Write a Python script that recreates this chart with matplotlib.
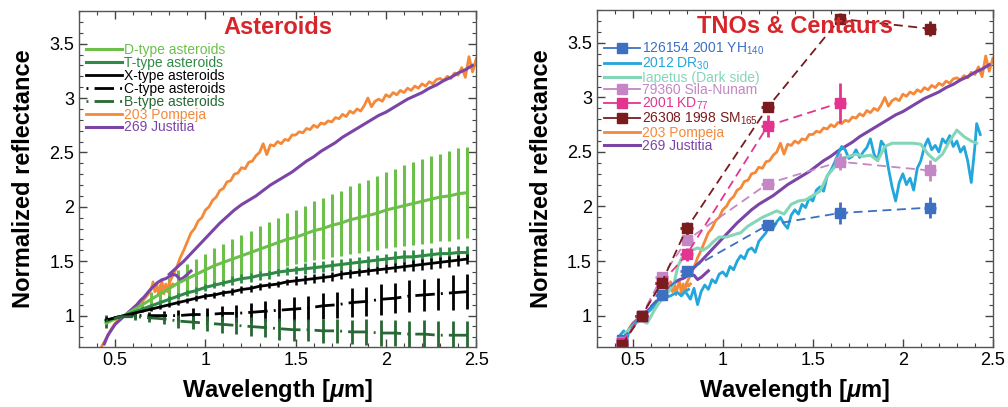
import numpy as np
import matplotlib
matplotlib.use('Agg')
import matplotlib.pyplot as plt
from matplotlib.lines import Line2D
from matplotlib.ticker import MultipleLocator, FormatStrFormatter

plt.rcParams['font.family'] = ['Liberation Sans', 'DejaVu Sans']
plt.rcParams['mathtext.fontset'] = 'custom'
plt.rcParams['mathtext.rm'] = 'Liberation Sans'
plt.rcParams['mathtext.it'] = 'Liberation Sans:italic:bold'
plt.rcParams['mathtext.bf'] = 'Liberation Sans:bold'

# ---------------- asteroid class means (left panel) ----------------
wl_class = [0.45, 0.50, 0.55, 0.60, 0.65, 0.70, 0.75, 0.80, 0.85, 0.90, 0.95, 1.00, 1.05, 1.10,
            1.15, 1.20, 1.25, 1.30, 1.35, 1.40, 1.45, 1.50, 1.55, 1.60, 1.65, 1.70, 1.75, 1.80,
            1.85, 1.90, 1.95, 2.00, 2.05, 2.10, 2.15, 2.20, 2.25, 2.30, 2.35, 2.40, 2.45]
d_type = [0.93, 0.97, 1.00, 1.05, 1.10, 1.15, 1.20, 1.25, 1.30, 1.34, 1.38, 1.42, 1.46, 1.49,
          1.52, 1.55, 1.58, 1.61, 1.64, 1.67, 1.70, 1.72, 1.75, 1.78, 1.80, 1.83, 1.85, 1.88,
          1.90, 1.92, 1.94, 1.97, 1.99, 2.01, 2.03, 2.05, 2.07, 2.09, 2.10, 2.12, 2.13]
d_err = [0.02, 0.01, 0.00, 0.03, 0.05, 0.07, 0.09, 0.10, 0.12, 0.13, 0.14, 0.15, 0.16, 0.17,
         0.18, 0.19, 0.20, 0.21, 0.22, 0.23, 0.24, 0.25, 0.26, 0.27, 0.28, 0.29, 0.30, 0.31,
         0.32, 0.33, 0.34, 0.35, 0.36, 0.37, 0.38, 0.39, 0.40, 0.40, 0.41, 0.42, 0.42]
t_type = [0.95, 0.98, 1.00, 1.03, 1.06, 1.09, 1.12, 1.15, 1.18, 1.21, 1.23, 1.26, 1.28, 1.30,
          1.32, 1.34, 1.35, 1.37, 1.38, 1.40, 1.41, 1.42, 1.43, 1.44, 1.45, 1.46, 1.47, 1.48,
          1.49, 1.50, 1.51, 1.52, 1.53, 1.54, 1.54, 1.55, 1.56, 1.57, 1.57, 1.58, 1.58]
t_err = [0.03, 0.01, 0.00, 0.01, 0.02, 0.02, 0.02, 0.03, 0.03, 0.03, 0.03, 0.03, 0.03, 0.03,
         0.04, 0.04, 0.04, 0.04, 0.04, 0.04, 0.04, 0.04, 0.05, 0.05, 0.05, 0.05, 0.05, 0.05,
         0.05, 0.05, 0.05, 0.05, 0.06, 0.06, 0.06, 0.06, 0.06, 0.06, 0.06, 0.06, 0.06]
x_type = [0.96, 0.98, 1.00, 1.02, 1.04, 1.06, 1.08, 1.10, 1.12, 1.14, 1.16, 1.18, 1.19, 1.21,
          1.22, 1.24, 1.25, 1.27, 1.28, 1.29, 1.31, 1.32, 1.33, 1.34, 1.35, 1.36, 1.38, 1.39,
          1.40, 1.41, 1.42, 1.43, 1.44, 1.45, 1.46, 1.47, 1.48, 1.49, 1.50, 1.51, 1.52]
x_err = [0.02, 0.01, 0.00, 0.01, 0.01, 0.02, 0.02, 0.02, 0.02, 0.02, 0.03, 0.03, 0.03, 0.03,
         0.03, 0.03, 0.03, 0.03, 0.03, 0.03, 0.03, 0.04, 0.04, 0.04, 0.04, 0.04, 0.04, 0.04,
         0.04, 0.04, 0.04, 0.04, 0.04, 0.04, 0.05, 0.05, 0.05, 0.05, 0.05, 0.05, 0.05]

wl_cb = [0.45, 0.53, 0.61, 0.69, 0.77, 0.85, 0.93, 1.01, 1.09, 1.17, 1.25, 1.33, 1.41,
         1.49, 1.57, 1.65, 1.73, 1.81, 1.89, 1.97, 2.05, 2.13, 2.21, 2.29, 2.37, 2.45]
c_type = [0.97, 0.99, 1.00, 1.00, 1.00, 1.00, 1.01, 1.01, 1.02, 1.02, 1.03, 1.04, 1.05,
          1.06, 1.07, 1.09, 1.10, 1.12, 1.13, 1.15, 1.16, 1.18, 1.19, 1.20, 1.21, 1.22]
c_err = [0.03, 0.01, 0.02, 0.03, 0.04, 0.05, 0.06, 0.06, 0.07, 0.08, 0.09, 0.09, 0.10,
         0.11, 0.11, 0.12, 0.12, 0.13, 0.13, 0.14, 0.14, 0.15, 0.15, 0.15, 0.16, 0.16]
b_type = [0.95, 0.99, 0.99, 0.98, 0.97, 0.95, 0.94, 0.93, 0.92, 0.91, 0.90, 0.89, 0.88,
          0.87, 0.87, 0.86, 0.86, 0.85, 0.85, 0.84, 0.84, 0.83, 0.83, 0.82, 0.82, 0.82]
b_err = [0.06, 0.01, 0.03, 0.04, 0.05, 0.06, 0.06, 0.07, 0.08, 0.08, 0.09, 0.09, 0.10,
         0.10, 0.10, 0.11, 0.11, 0.11, 0.12, 0.12, 0.12, 0.12, 0.13, 0.13, 0.13, 0.13]

# ---------------- 203 Pompeja ----------------
pom_vis_wl = [0.42, 0.44, 0.46, 0.48, 0.50, 0.52, 0.54, 0.56, 0.58, 0.60, 0.62, 0.64, 0.66, 0.68,
              0.70, 0.71, 0.72, 0.73, 0.74, 0.75, 0.76, 0.77, 0.78, 0.79, 0.80, 0.81, 0.82]
pom_vis = [0.70, 0.76, 0.82, 0.88, 0.93, 0.96, 0.99, 1.01, 1.03, 1.06, 1.09, 1.12, 1.15, 1.19,
           1.24, 1.31, 1.22, 1.30, 1.19, 1.27, 1.31, 1.20, 1.29, 1.22, 1.30, 1.27, 1.29]
pom_nir_wl = [0.80, 0.82, 0.84, 0.86, 0.88, 0.90, 0.92, 0.94, 0.96, 0.98, 1.00, 1.02, 1.04, 1.06,
              1.08, 1.10, 1.12, 1.14, 1.16, 1.18, 1.20, 1.22, 1.24, 1.26, 1.28, 1.30, 1.32, 1.34,
              1.36, 1.38, 1.40, 1.42, 1.44, 1.46, 1.48, 1.50, 1.52, 1.54, 1.56, 1.58, 1.60, 1.62,
              1.64, 1.66, 1.68, 1.70, 1.72, 1.74, 1.76, 1.78, 1.80, 1.82, 1.84, 1.86, 1.88, 1.90,
              1.92, 1.94, 1.96, 1.98, 2.00, 2.02, 2.04, 2.06, 2.08, 2.10, 2.12, 2.14, 2.16, 2.18,
              2.20, 2.22, 2.24, 2.26, 2.28, 2.30, 2.32, 2.34, 2.36, 2.38, 2.40, 2.42, 2.44, 2.46,
              2.48, 2.50]
pom_nir = [1.30, 1.37, 1.44, 1.53, 1.60, 1.68, 1.76, 1.80, 1.87, 1.90, 1.97, 2.00, 2.06, 2.09,
           2.15, 2.17, 2.23, 2.24, 2.30, 2.31, 2.36, 2.35, 2.41, 2.42, 2.47, 2.50, 2.58, 2.48,
           2.57, 2.56, 2.60, 2.58, 2.62, 2.61, 2.66, 2.66, 2.69, 2.68, 2.72, 2.71, 2.75, 2.73,
           2.77, 2.76, 2.79, 2.78, 2.82, 2.81, 2.85, 2.83, 2.88, 2.86, 2.90, 2.88, 2.93, 3.00,
           2.92, 2.97, 2.99, 2.97, 3.03, 3.01, 3.05, 3.03, 3.07, 3.05, 3.09, 3.07, 3.11, 3.09,
           3.13, 3.11, 3.15, 3.13, 3.17, 3.18, 3.16, 3.20, 3.18, 3.23, 3.21, 3.28, 3.19, 3.38,
           3.24, 3.36]

# ---------------- 269 Justitia ----------------
jus_vis_wl = [0.44, 0.46, 0.48, 0.50, 0.52, 0.54, 0.56, 0.58, 0.60, 0.62, 0.64, 0.66, 0.68,
              0.70, 0.72, 0.74, 0.76, 0.78, 0.80, 0.82, 0.84, 0.86, 0.88, 0.90, 0.92]
jus_vis = [0.74, 0.82, 0.87, 0.92, 0.95, 0.98, 1.01, 1.04, 1.07, 1.10, 1.14, 1.17, 1.21,
           1.25, 1.28, 1.31, 1.33, 1.34, 1.36, 1.38, 1.37, 1.33, 1.35, 1.38, 1.41]
jus_nir_wl = [0.80, 0.84, 0.88, 0.92, 0.96, 1.00, 1.04, 1.08, 1.12, 1.16, 1.20, 1.24, 1.28,
              1.32, 1.36, 1.40, 1.44, 1.48, 1.52, 1.56, 1.60, 1.64, 1.68, 1.72, 1.76, 1.80,
              1.84, 1.88, 1.92, 1.96, 2.00, 2.04, 2.08, 2.12, 2.16, 2.20, 2.24, 2.28, 2.32,
              2.36, 2.40, 2.44, 2.48]
jus_nir = [1.38, 1.44, 1.50, 1.57, 1.64, 1.71, 1.78, 1.85, 1.91, 1.97, 2.02, 2.06, 2.10,
           2.15, 2.20, 2.24, 2.28, 2.32, 2.37, 2.42, 2.46, 2.51, 2.55, 2.59, 2.64, 2.68,
           2.72, 2.76, 2.80, 2.84, 2.87, 2.91, 2.95, 2.99, 3.02, 3.05, 3.09, 3.12, 3.16,
           3.19, 3.23, 3.26, 3.30]

# ---------------- TNOs & Centaurs (right panel) ----------------
wl_phot = [0.44, 0.55, 0.66, 0.80, 1.25, 1.65, 2.15]
yh140 = [0.78, 1.00, 1.19, 1.41, 1.83, 1.94, 1.99]
yh140_err = [0.02, 0.00, 0.03, 0.04, 0.04, 0.10, 0.10]
sila = [0.76, 1.00, 1.35, 1.69, 2.21, 2.41, 2.33]
sila_err = [0.02, 0.00, 0.03, 0.04, 0.04, 0.08, 0.10]
wl_kd77 = [0.44, 0.55, 0.66, 0.80, 1.25, 1.65]
kd77 = [0.75, 1.00, 1.30, 1.56, 2.74, 2.95]
kd77_err = [0.02, 0.00, 0.04, 0.06, 0.10, 0.18]
sm165 = [0.73, 1.00, 1.30, 1.80, 2.91, 3.72, 3.63]
sm165_err = [0.02, 0.00, 0.03, 0.06, 0.04, 0.05, 0.07]

dr30_vis_wl = [0.43, 0.45, 0.47, 0.49, 0.51, 0.53, 0.55, 0.57, 0.59, 0.61, 0.63, 0.65, 0.67,
               0.69, 0.71, 0.73, 0.75, 0.77, 0.79, 0.81]
dr30_vis = [0.82, 0.86, 0.80, 0.90, 0.93, 0.97, 1.00, 1.02, 1.04, 1.07, 1.10, 1.13, 1.15,
            1.17, 1.18, 1.20, 1.21, 1.18, 1.22, 1.24]
dr30_nir_wl = [0.80, 0.82, 0.84, 0.86, 0.88, 0.90, 0.92, 0.94, 0.96, 0.98, 1.00, 1.02, 1.04,
               1.06, 1.08, 1.10, 1.12, 1.14, 1.16, 1.18, 1.20, 1.22, 1.24, 1.26, 1.28, 1.30,
               1.32, 1.34, 1.36, 1.38, 1.40, 1.42, 1.44, 1.46, 1.48, 1.50, 1.52, 1.54, 1.56,
               1.58, 1.60, 1.62, 1.64, 1.66, 1.68, 1.70, 1.72, 1.74, 1.76, 1.78, 1.80, 1.82,
               1.84, 1.86, 1.88, 1.90, 1.92, 1.94, 1.96, 1.98, 2.00, 2.02, 2.04, 2.06, 2.08,
               2.10, 2.12, 2.14, 2.16, 2.18, 2.20, 2.22, 2.24, 2.26, 2.28, 2.30, 2.32, 2.34,
               2.36, 2.38, 2.40, 2.41, 2.43]
dr30_nir = [1.20, 1.15, 1.25, 1.10, 1.22, 1.28, 1.24, 1.33, 1.30, 1.38, 1.40, 1.36, 1.45,
            1.42, 1.50, 1.55, 1.52, 1.60, 1.62, 1.58, 1.68, 1.72, 1.76, 1.84, 1.80, 1.86,
            1.90, 1.84, 1.80, 1.92, 1.97, 1.93, 2.02, 1.99, 2.08, 2.05, 2.15, 2.18, 2.14,
            2.28, 2.33, 2.40, 2.48, 2.55, 2.52, 2.44, 2.46, 2.52, 2.45, 2.50, 2.54, 2.62,
            2.48, 2.42, 2.60, 2.55, 2.35, 2.18, 2.05, 2.22, 2.30, 2.20, 2.26, 2.15, 2.35,
            2.42, 2.55, 2.62, 2.52, 2.56, 2.50, 2.62, 2.58, 2.65, 2.55, 2.60, 2.50, 2.55,
            2.42, 2.22, 2.55, 2.76, 2.66]

iap_wl = [0.46, 0.50, 0.54, 0.58, 0.62, 0.66, 0.70, 0.73, 0.75, 0.77, 0.79, 0.81, 0.83, 0.86,
          0.89, 0.92, 0.95, 0.98, 1.02, 1.06, 1.10, 1.14, 1.18, 1.22, 1.26, 1.30, 1.34, 1.38,
          1.42, 1.46, 1.50, 1.54, 1.58, 1.62, 1.66, 1.70, 1.74, 1.78, 1.82, 1.86, 1.90, 1.94,
          1.98, 2.02, 2.06, 2.10, 2.14, 2.18, 2.22, 2.26, 2.30, 2.34, 2.38, 2.41]
iapetus = [0.84, 0.90, 0.96, 0.93, 1.05, 1.15, 1.22, 1.30, 1.45, 1.52, 1.58, 1.55, 1.60, 1.62,
           1.60, 1.63, 1.68, 1.72, 1.72, 1.74, 1.76, 1.82, 1.86, 1.90, 1.93, 1.96, 1.93, 2.02,
           2.05, 2.06, 2.10, 2.14, 2.28, 2.36, 2.44, 2.46, 2.48, 2.46, 2.47, 2.42, 2.55, 2.58,
           2.58, 2.58, 2.58, 2.57, 2.48, 2.42, 2.48, 2.60, 2.70, 2.64, 2.60, 2.58]

# colours
c_d, c_t, c_x, c_c, c_b = '#6cc04a', '#2f8a45', 'black', 'black', '#276833'
c_pom, c_jus = '#f4893a', '#7b45a8'
c_yh, c_dr, c_iap, c_sila, c_kd, c_sm = '#3d6fc2', '#22a6dc', '#85d6b9', '#c486c4', '#e3358f', '#7a1c1e'
title_red = '#d7262b'

dashdot = (0, (0.7, 2.2, 7.0, 2.2))

fig = plt.figure(figsize=(10.08, 4.07), dpi=100)
ax1 = fig.add_axes([0.0784, 0.147, 0.394, 0.826])
ax2 = fig.add_axes([0.592, 0.147, 0.393, 0.828])

# ---- left panel ----
ax1.errorbar(wl_class, d_type, yerr=d_err, color=c_d, lw=2.2, elinewidth=2.2, capsize=0)
ax1.errorbar(wl_class, t_type, yerr=t_err, color=c_t, lw=2.2, elinewidth=2.0, capsize=0)
ax1.errorbar(wl_class, x_type, yerr=x_err, color=c_x, lw=2.0, elinewidth=1.8, capsize=0)
ax1.errorbar(wl_cb, c_type, yerr=c_err, color=c_c, lw=2.0, ls=dashdot, elinewidth=2.0, capsize=0)
ax1.errorbar(wl_cb, b_type, yerr=b_err, color=c_b, lw=2.0, ls=dashdot, elinewidth=2.0, capsize=0)

for ax in (ax1, ax2):
    ax.plot(pom_vis_wl, pom_vis, color=c_pom, lw=2.0)
    ax.plot(pom_nir_wl, pom_nir, color=c_pom, lw=2.0)
    ax.plot(jus_vis_wl, jus_vis, color=c_jus, lw=2.2)
    ax.plot(jus_nir_wl, jus_nir, color=c_jus, lw=2.2)

h_left = [Line2D([], [], color=c_d, lw=2.2),
          Line2D([], [], color=c_t, lw=2.2),
          Line2D([], [], color=c_x, lw=2.0),
          Line2D([], [], color=c_c, lw=2.0, ls=dashdot),
          Line2D([], [], color=c_b, lw=2.0, ls=dashdot),
          Line2D([], [], color=c_pom, lw=2.0),
          Line2D([], [], color=c_jus, lw=2.2)]
lab_left = ['D-type asteroids', 'T-type asteroids', 'X-type asteroids', 'C-type asteroids',
            'B-type asteroids', '203 Pompeja', '269 Justitia']
col_left = [c_d, c_t, c_x, c_c, c_b, c_pom, c_jus]
leg = ax1.legend(h_left, lab_left, loc='upper left', bbox_to_anchor=(0.0, 0.925), frameon=False,
                 fontsize=10, handlelength=2.6, handletextpad=0.15, labelspacing=-0.08,
                 borderaxespad=0.3, borderpad=0.2)
for t, c in zip(leg.get_texts(), col_left):
    t.set_color(c)
ax1.text(0.5, 0.952, 'Asteroids', transform=ax1.transAxes, ha='center', va='center',
         color=title_red, fontsize=17, fontweight='bold')

# ---- right panel ----
ax2.plot(dr30_vis_wl, dr30_vis, color=c_dr, lw=2.0)
ax2.plot(dr30_nir_wl, dr30_nir, color=c_dr, lw=2.0)
ax2.plot(iap_wl, iapetus, color=c_iap, lw=2.2)

pts = [(wl_phot, yh140, yh140_err, c_yh),
       (wl_phot, sila, sila_err, c_sila),
       (wl_kd77, kd77, kd77_err, c_kd),
       (wl_phot, sm165, sm165_err, c_sm)]
for wl, val, err, c in pts:
    ax2.errorbar(wl, val, yerr=err, xerr=0.035, color=c, lw=1.3, ls=(0, (5, 3)), marker='s',
                 ms=7.5, elinewidth=2.0, capsize=0)

h_right = [Line2D([], [], color=c_yh, lw=1.3, marker='s', ms=7.5),
           Line2D([], [], color=c_dr, lw=2.0),
           Line2D([], [], color=c_iap, lw=2.2),
           Line2D([], [], color=c_sila, lw=1.3, marker='s', ms=7.5),
           Line2D([], [], color=c_kd, lw=1.3, marker='s', ms=7.5),
           Line2D([], [], color=c_sm, lw=1.3, marker='s', ms=7.5),
           Line2D([], [], color=c_pom, lw=2.0),
           Line2D([], [], color=c_jus, lw=2.2)]
lab_right = [r'126154 2001 YH$_{\mathregular{140}}$', r'2012 DR$_{\mathregular{30}}$',
             'Iapetus (Dark side)', '79360 Sila-Nunam', r'2001 KD$_{\mathregular{77}}$',
             r'26308 1998 SM$_{\mathregular{165}}$', '203 Pompeja', '269 Justitia']
col_right = [c_yh, c_dr, c_iap, c_sila, c_kd, c_sm, c_pom, c_jus]
leg2 = ax2.legend(h_right, lab_right, loc='upper left', bbox_to_anchor=(0.0, 0.93), frameon=False,
                  fontsize=10, handlelength=2.6, handletextpad=0.15, labelspacing=-0.1,
                  borderaxespad=0.3, borderpad=0.2)
for t, c in zip(leg2.get_texts(), col_right):
    t.set_color(c)
ax2.text(0.5, 0.952, 'TNOs & Centaurs', transform=ax2.transAxes, ha='center', va='center',
         color=title_red, fontsize=17, fontweight='bold')

for ax in (ax1, ax2):
    ax.set_xlim(0.3, 2.5)
    ax.set_ylim(0.71, 3.8)
    ax.xaxis.set_major_locator(MultipleLocator(0.5))
    ax.xaxis.set_minor_locator(MultipleLocator(0.1))
    ax.yaxis.set_major_locator(MultipleLocator(0.5))
    ax.yaxis.set_minor_locator(MultipleLocator(0.1))
    ax.xaxis.set_major_formatter(FormatStrFormatter('%g'))
    ax.yaxis.set_major_formatter(FormatStrFormatter('%g'))
    ax.tick_params(which='both', direction='in', top=True, right=True, labelsize=13,
                   color='#444444')
    ax.tick_params(which='major', length=6, width=1)
    ax.tick_params(which='minor', length=3, width=0.8)
    for s in ax.spines.values():
        s.set_color('#555555')
        s.set_linewidth(1.0)
    ax.set_xlabel(r'Wavelength [$\mu$m]', fontsize=17, fontweight='bold', labelpad=6)
    ax.set_ylabel('Normalized reflectance', fontsize=17, fontweight='bold', labelpad=10)

fig.savefig('out.png', dpi=100)
